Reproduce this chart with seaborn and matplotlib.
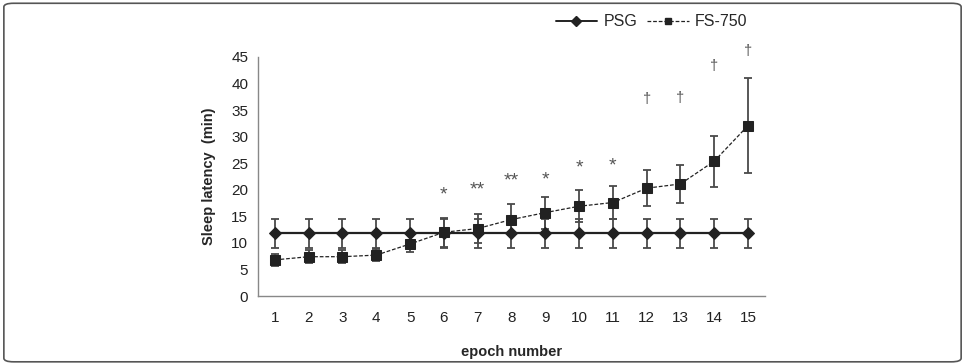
import numpy as np
import pandas as pd
import matplotlib
matplotlib.use("Agg")
import matplotlib.pyplot as plt
import seaborn as sns
from matplotlib.patches import FancyBboxPatch
from matplotlib.lines import Line2D

epochs = list(range(1, 16))
psg_mean = [11.8] * 15
psg_err = [2.7] * 15
fs_mean = [6.8, 7.4, 7.4, 7.7, 9.8, 12.0, 12.7, 14.4, 15.7, 16.9, 17.6, 20.3, 21.1, 25.4, 32.1]
fs_err = [1.2, 1.2, 1.2, 1.2, 1.6, 2.7, 2.8, 2.9, 3.0, 3.0, 3.1, 3.4, 3.5, 4.8, 9.0]
marks = ["", "", "", "", "", "*", "**", "**", "*", "*", "*", "†", "†", "†", "†"]
mark_y = [0, 0, 0, 0, 0, 19.9, 20.7, 22.4, 22.6, 24.9, 25.2, 37.0, 37.3, 43.3, 46.2]
yticks = [0, 5, 10, 15, 20, 25, 30, 35, 40, 45]

sns.set_style("white")
plt.rcParams['font.family'] = ['Liberation Sans', 'DejaVu Sans']

fig = plt.figure(figsize=(9.65, 3.64), dpi=100)
ax = fig.add_axes([258/965, (364-296)/364, 507/965, 239/364])

df = pd.DataFrame({
    "x": list(range(15)) * 2,
    "y": psg_mean + fs_mean,
    "series": ["PSG"] * 15 + ["FS-750"] * 15,
})
dark = "#222222"
sns.lineplot(data=df, x="x", y="y", hue="series", style="series",
             palette={"PSG": dark, "FS-750": dark},
             markers={"PSG": "D", "FS-750": "s"},
             dashes={"PSG": "", "FS-750": (3, 1.5)},
             markersize=6.5, legend=False, ax=ax, zorder=3)
for line, lw in zip(ax.lines, [1.6, 0.9]):
    line.set_linewidth(lw)
    line.set_markeredgecolor(dark)

xs = np.arange(15)
ax.errorbar(xs, psg_mean, yerr=psg_err, fmt="none", ecolor="#4a4a4a",
            elinewidth=1.3, capsize=3, capthick=1.3, zorder=2)
ax.errorbar(xs, fs_mean, yerr=fs_err, fmt="none", ecolor="#4a4a4a",
            elinewidth=1.3, capsize=3, capthick=1.3, zorder=2)

for x, m, yv in zip(xs, marks, mark_y):
    if m:
        if m.startswith("*"):
            ax.text(x, yv - 0.8, m, ha="center", va="center", fontsize=14,
                    color="#555555")
        else:
            ax.text(x, yv, m, ha="center", va="center", fontsize=10.5,
                    color="#555555")

ax.set_xlim(-0.5, 14.5)
ax.set_ylim(0, 45)
ax.set_yticks(yticks)
ax.set_yticklabels([str(v) for v in yticks], fontsize=11, color="#222222")
ax.set_xticks(xs)
ax.set_xticklabels([str(e) for e in epochs], fontsize=11, color="#222222")
ax.set_xticks(np.arange(-0.5, 15, 1), minor=True)
ax.tick_params(axis="x", which="major", length=0, pad=11)
ax.tick_params(axis="x", which="minor", length=5, color="#888888", width=1, direction="out")
ax.tick_params(axis="y", length=4, color="#888888", width=1, direction="out", pad=3)
for s in ["top", "right"]:
    ax.spines[s].set_visible(False)
for s in ["left", "bottom"]:
    ax.spines[s].set_color("#888888")
    ax.spines[s].set_linewidth(1)

ax.set_xlabel("epoch number", fontsize=10.5, fontweight="bold", labelpad=14)
ax.set_ylabel("Sleep latency  (min)", fontsize=10.5, fontweight="bold", labelpad=11)
ax.set_facecolor("white")

handles = [
    Line2D([0], [0], color=dark, lw=1.4, marker="D", markersize=5),
    Line2D([0], [0], color=dark, lw=0.9, ls=(0, (3, 1.5)), marker="s", markersize=5),
]
fig.legend(handles, ["PSG", "FS-750"], loc="center", bbox_to_anchor=(651.5/965, 1 - 22/364),
           ncol=2, frameon=False, fontsize=11.5, handlelength=2.6, columnspacing=0.6,
           handletextpad=0.4)

border = FancyBboxPatch((0.004, 0.006), 0.992, 0.985, boxstyle="round,pad=0,rounding_size=0.01",
                        transform=fig.transFigure, fill=False, edgecolor="#555555", lw=1.2)
fig.patches.append(border)

fig.savefig("out.png", dpi=100)
